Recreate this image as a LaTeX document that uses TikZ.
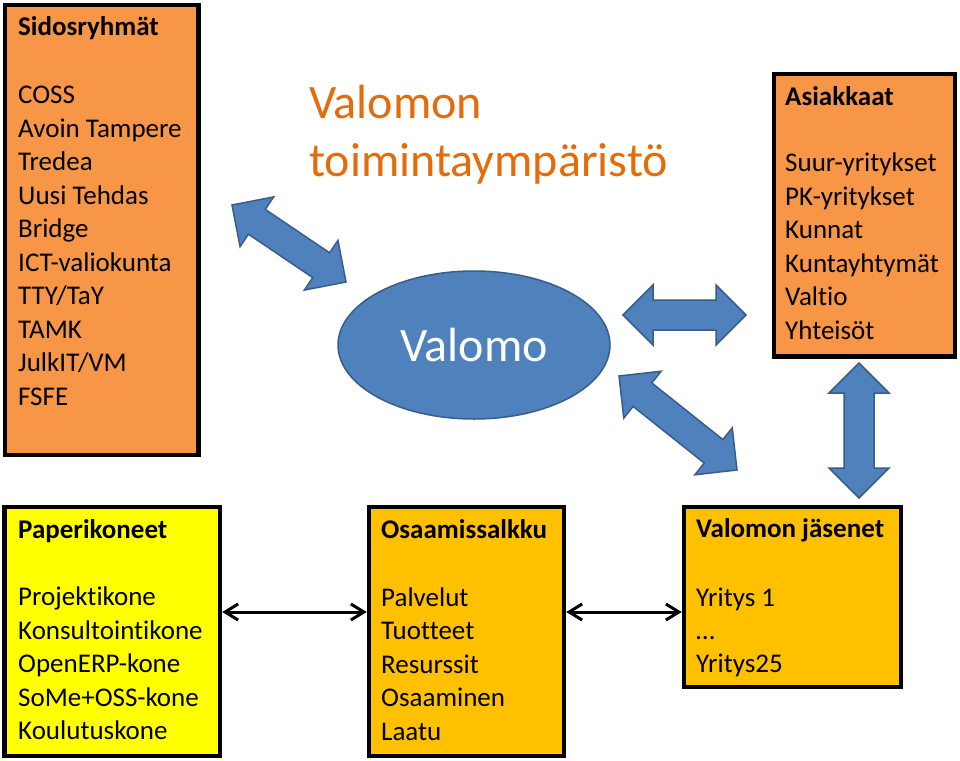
\documentclass[tikz,border=0pt]{standalone}
\usepackage{fontspec}
\setmainfont{Carlito}[Ligatures=NoCommon]
\usetikzlibrary{calc,arrows.meta,shapes.geometric}
\definecolor{boxorange}{HTML}{F79646}
\definecolor{boxyellow}{HTML}{FFFF00}
\definecolor{boxgold}{HTML}{FFC000}
\definecolor{valblue}{HTML}{4F81BD}
\definecolor{valblueline}{HTML}{385D8A}
\definecolor{titleorange}{HTML}{E46C0A}
\newcommand{\dblarrow}[2]{%
  \coordinate (h1) at ($(#1)!30pt!(#2)$);
  \coordinate (h2) at ($(#2)!30pt!(#1)$);
  \draw[barrow] (#1) -- ($(h1)!30pt!90:(#2)$) -- ($(h1)!15pt!90:(#2)$)
    -- ($(h2)!15pt!-90:(#1)$) -- ($(h2)!30pt!-90:(#1)$) -- (#2)
    -- ($(h2)!30pt!90:(#1)$) -- ($(h2)!15pt!90:(#1)$)
    -- ($(h1)!15pt!-90:(#2)$) -- ($(h1)!30pt!-90:(#2)$) -- cycle;}
\begin{document}
\begin{tikzpicture}[x=1pt,y=-1pt,
  box/.style={draw=black, line width=4.5pt, inner sep=0pt},
  item/.style={anchor=base west, inner sep=0pt, font=\fontsize{27}{32}\selectfont},
  boxtitle/.style={anchor=base west, inner sep=0pt, font=\fontsize{27}{32}\selectfont\bfseries},
  bigtitle/.style={anchor=base west, inner sep=0pt, text=titleorange, font=\fontsize{48}{58}\selectfont},
  barrow/.style={fill=valblue, draw=valblueline, line width=1.5pt},
  thinarrow/.style={draw=black, line width=3pt, {Straight Barb[length=13pt,width=16pt]}-{Straight Barb[length=13pt,width=16pt]}}]
\useasboundingbox (0,0) rectangle (960,760);
\fill[white] (0,0) rectangle (960,760);

% boxes
\node[box, fill=boxorange, minimum width=193.5pt, minimum height=450pt] (sid) at (101.75,230) {};
\node[box, fill=boxorange, minimum width=181pt, minimum height=282.5pt] (asi) at (864.5,215.25) {};
\node[box, fill=boxyellow, minimum width=215.3pt, minimum height=249pt] (pap) at (112.35,631.5) {};
\node[box, fill=boxgold, minimum width=195pt, minimum height=249pt] (osa) at (466.5,631.5) {};
\node[box, fill=boxgold, minimum width=217pt, minimum height=180pt] (jas) at (792.5,597) {};

% box texts
\node[boxtitle] (sidt) at (18,36) {Sidosryhmät};
\foreach \t [count=\i] in {COSS,Avoin Tampere,Tredea,Uusi Tehdas,Bridge,ICT-valiokunta,TTY/TaY,TAMK,JulkIT/VM,FSFE}
  \node[item] (sid\i) at (18,{103.5+33.5*(\i-1)}) {\t};

\node[boxtitle] (asit) at (785,105) {Asiakkaat};
\foreach \t [count=\i] in {Suur-yritykset,PK-yritykset,Kunnat,Kuntayhtymät,Valtio,Yhteisöt}
  \node[item] (asi\i) at (785,{171.5+33.6*(\i-1)}) {\t};

\node[boxtitle] (papt) at (18,538) {Paperikoneet};
\foreach \t [count=\i] in {Projektikone,Konsultointikone,OpenERP-kone,SoMe+OSS-kone,Koulutuskone}
  \node[item] (pap\i) at (18,{605.5+33.6*(\i-1)}) {\t};

\node[boxtitle] (osat) at (381,538) {Osaamissalkku};
\foreach \t [count=\i] in {Palvelut,Tuotteet,Resurssit,Osaaminen,Laatu}
  \node[item] (osa\i) at (381,{606.5+33.4*(\i-1)}) {\t};

\node[boxtitle] (jast) at (696,537.5) {Valomon jäsenet};
\foreach \t [count=\i] in {Yritys 1,…,Yritys25}
  \node[item] (jas\i) at (696,{606+33*(\i-1)}) {\t};

% main title
\node[bigtitle] (title1) at (309,118.5) {Valomon};
\node[bigtitle] (title2) at (309,176) {toimintaympäristö};

% Valomo ellipse
\node[ellipse, fill=valblue, draw=valblueline, line width=1.5pt,
      minimum width=272pt, minimum height=148pt, inner sep=0pt,
      text=white, font=\fontsize{48}{58}\selectfont] (valomo) at (474,345) {Valomo};

% block arrows
\coordinate (a1) at (232,205); \coordinate (b1) at (346,282);
\coordinate (a2) at (623,315); \coordinate (b2) at (746,315);
\coordinate (a3) at (619,376); \coordinate (b3) at (737,470);
\coordinate (a4) at (859,363); \coordinate (b4) at (859,498);
\dblarrow{a1}{b1}
\dblarrow{a2}{b2}
\dblarrow{a3}{b3}
\dblarrow{a4}{b4}

% thin arrows
\draw[thinarrow] ([yshift=19.5pt]pap.east) -- ([yshift=19.5pt]osa.west);
\draw[thinarrow] ([yshift=19.5pt]osa.east) -- ([yshift=-15pt]jas.west);
\end{tikzpicture}
\end{document}
